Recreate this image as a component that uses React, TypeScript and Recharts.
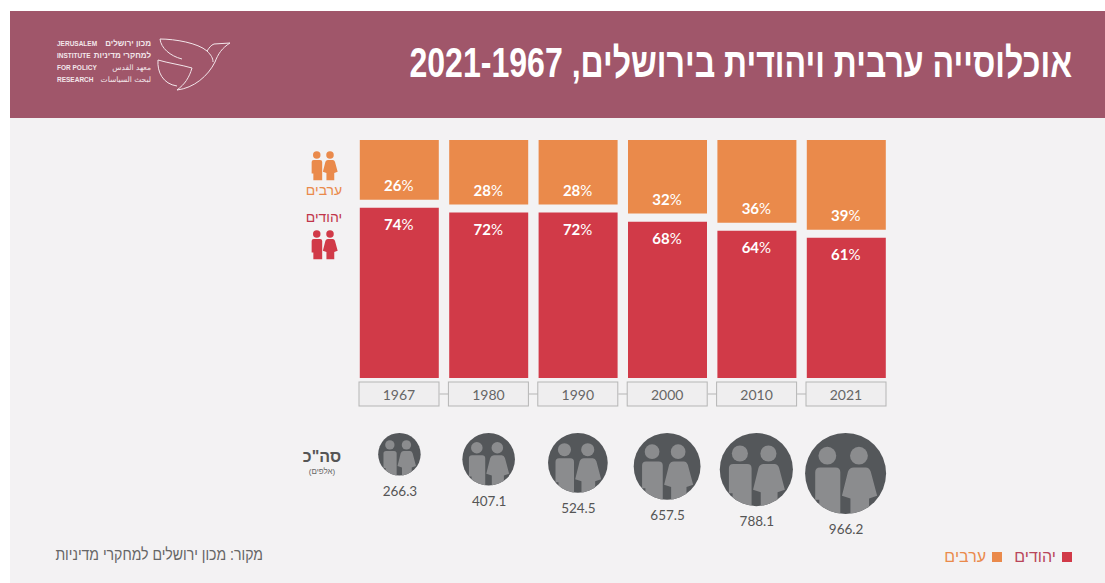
import { Bar, BarChart, LabelList, Scatter, ScatterChart, XAxis, YAxis, ZAxis } from "recharts";

const years = ["1967", "1980", "1990", "2000", "2010", "2021"];
const jews = [74, 72, 72, 68, 64, 61];
const arabs = [26, 28, 28, 32, 36, 39];
// blank band between the two stacked segments
const gaps = [3.5, 3.5, 3.5, 3.5, 3.5, 3.5];
const totals = [266.3, 407.1, 524.5, 657.5, 788.1, 966.2];
const bubbleRow = [1, 1, 1, 1, 1, 1];

const logoEnglish = ["JERUSALEM", "INSTITUTE", "FOR POLICY", "RESEARCH"];
const logoLocal = ["מכון ירושלים", "למחקרי מדיניות", "معهد القدس", "لبحث السياسات"];

const shareRows = years.map((year, i) => ({ year, jews: jews[i], gap: gaps[i], arabs: arabs[i] }));
const bubbleRows = years.map((year, i) => ({ year, total: totals[i], row: bubbleRow[i] }));

const HEBREW = '"Liberation Sans", "DejaVu Sans", sans-serif';
const NUMBERS = 'Lato, "Open Sans", sans-serif';
const ORANGE = "#ea8a4b";
const RED = "#d13a48";

const plotLeft = 354.8;
const plotRight = 213.8;
const bandWidth = 89.4;

function People({ cx, cy, r, fill }: { cx: number; cy: number; r: number; fill: string }) {
  return (
    <g transform={`translate(${cx} ${cy}) scale(${r})`} fill={fill}>
      <circle cx={-0.45} cy={-0.44} r={0.22} />
      <circle cx={0.33} cy={-0.44} r={0.22} />
      <path d="M-.63 -.15H-.25Q-.13 -.15 -.13 -.03V1.05H-.65V.65H-.75V-.03Q-.75 -.15 -.63 -.15Z" />
      <path d="M.2 -.15H.5Q.58 -.15 .62 -.05L.78 .55L.58 .62V1.05H.12V.62L-.09 .55L.06 -.05Q.1 -.15 .2 -.15Z" />
    </g>
  );
}

function YearTick(props: any) {
  const { x, y, payload, index } = props;
  const top = y - 1;
  return (
    <g>
      {index < years.length - 1 && (
        <line x1={x + 40} x2={x + bandWidth - 40} y1={top + 12} y2={top + 12} stroke="#b5b5b5" />
      )}
      <rect x={x - 40.5} y={top} width={80} height={24} fill="#efeeef" stroke="#b5b5b5" />
      <text x={x - 0.5} y={top + 12.5} textAnchor="middle" dominantBaseline="central" fontFamily={NUMBERS} fontSize={14} fill="#666">
        {payload.value}
      </text>
    </g>
  );
}

function ShareLabel(props: any) {
  const { x, y, width, height, value, index } = props;
  const isJews = props.kind === "jews";
  const ly = isJews ? y + 16.5 : y + height - 14.5;
  return (
    <text
      key={index}
      x={x + width / 2 - 0.5}
      y={ly}
      textAnchor="middle"
      dominantBaseline="central"
      fontFamily={NUMBERS}
      fontSize={15}
      fill="#fff"
    >
      <tspan fontWeight={700}>{value}</tspan>
      <tspan fontWeight={400}>%</tspan>
    </text>
  );
}

function Bubble(props: any) {
  const { cx, cy, size, payload } = props;
  const r = Math.sqrt(size / Math.PI);
  const id = `clip-${payload.year}`;
  const centerY = cy + r;
  return (
    <g>
      <clipPath id={id}>
        <circle cx={cx} cy={centerY} r={r} />
      </clipPath>
      <circle cx={cx} cy={centerY} r={r} fill="#54575a" />
      <g clipPath={`url(#${id})`}>
        <People cx={cx} cy={centerY} r={r} fill="#8b8c8e" />
      </g>
      <text
        x={cx + 0.5}
        y={cy + 2 * r + 15}
        textAnchor="middle"
        dominantBaseline="central"
        fontFamily={NUMBERS}
        fontSize={13.5}
        fill="#555"
      >
        {payload.total}
      </text>
    </g>
  );
}

function Decor() {
  return (
    <svg width={1105} height={583} style={{ position: "absolute", left: 0, top: 0 }}>
      <rect x={10} y={11} width={1095} height={107} fill="#a0566a" />
      <text
        transform="translate(1072 77) scale(0.7635 1)"
        direction="rtl"
        fontFamily={HEBREW}
        fontWeight={700}
        fontSize={42}
        fill="#fff"
      >
        אוכלוסייה ערבית ויהודית בירושלים, 2021-1967
      </text>

      {logoEnglish.map((line, i) => (
        <text key={line} x={57} y={46 + i * 12} fontFamily={HEBREW} fontWeight={700} fontSize={6.5} fill="#f3e6ea">
          {line}
        </text>
      ))}
      {logoLocal.map((line, i) => (
        <text
          key={line}
          x={151}
          y={46 + i * 12}
          direction="rtl"
          fontFamily={i < 2 ? HEBREW : '"DejaVu Sans", sans-serif'}
          fontWeight={i < 2 ? 700 : 400}
          fontSize={i < 2 ? 8 : 7.5}
          fill="#f3e6ea"
        >
          {line}
        </text>
      ))}
      <g fill="none" stroke="#f3e6ea" strokeWidth={1}>
        <path d="M160 39C175 39 198 43 207 51C209 48 211 45 214 44L230 43C222 48 218 54 215 62C208 76 194 88 177 90C185 84 189 78 192 68C182 65 168 63 158 60C157 72 163 84 177 86" />
        <path d="M160 39C161 48 170 56 182 59" />
        <path d="M207 51C211 55 213 58 213 62" />
      </g>

      <People cx={324.4} cy={162.5} r={17} fill={ORANGE} />
      <text x={324} y={195} textAnchor="middle" direction="rtl" fontFamily={HEBREW} fontSize={14} fill={ORANGE}>
        ערבים
      </text>
      <text x={324} y={222} textAnchor="middle" direction="rtl" fontFamily={HEBREW} fontSize={14} fill="#c1354a">
        יהודים
      </text>
      <People cx={324.4} cy={241.5} r={17} fill={RED} />

      <text x={322} y={462} textAnchor="middle" direction="rtl" fontFamily={HEBREW} fontWeight={700} fontSize={16} fill="#555">
        סה"כ
      </text>
      <text x={322} y={474} textAnchor="middle" direction="rtl" fontFamily={HEBREW} fontSize={8} fill="#666">
        (אלפים)
      </text>

      <text transform="translate(263 560) scale(0.88 1)" direction="rtl" fontFamily={HEBREW} fontSize={16} fill="#666">
        מקור: מכון ירושלים למחקרי מדיניות
      </text>

      <rect x={1062} y={552} width={10} height={10} fill={RED} />
      <text x={1056} y={562} direction="rtl" fontFamily={HEBREW} fontSize={16} fill="#b9465a">
        יהודים
      </text>
      <rect x={992} y={552} width={10} height={10} fill={ORANGE} />
      <text x={986} y={562} direction="rtl" fontFamily={HEBREW} fontSize={16} fill={ORANGE}>
        ערבים
      </text>
    </svg>
  );
}

export default function App() {
  return (
    <div style={{ position: "absolute", left: 0, top: 0, width: 1105, height: 583, overflow: "hidden", background: "#fff" }}>
      <div style={{ position: "absolute", left: 10, top: 118, width: 1095, height: 465, background: "#f3f2f3" }} />
      <Decor />
      <div style={{ position: "absolute", left: 0, top: 140 }}>
        <BarChart
          width={1105}
          height={280}
          data={shareRows}
          barCategoryGap={0}
          margin={{ top: 0, right: plotRight, bottom: 0, left: plotLeft }}
        >
          <XAxis
            dataKey="year"
            height={42}
            axisLine={false}
            tickLine={false}
            tickSize={0}
            tickMargin={5}
            interval={0}
            tick={<YearTick />}
          />
          <YAxis hide domain={[0, 103.5]} />
          <Bar dataKey="jews" stackId="share" fill={RED} barSize={79} isAnimationActive={false}>
            <LabelList dataKey="jews" content={<ShareLabel kind="jews" />} />
          </Bar>
          <Bar dataKey="gap" stackId="share" fill="none" barSize={79} isAnimationActive={false} />
          <Bar dataKey="arabs" stackId="share" fill={ORANGE} barSize={79} isAnimationActive={false}>
            <LabelList dataKey="arabs" content={<ShareLabel kind="arabs" />} />
          </Bar>
        </BarChart>
      </div>
      <div style={{ position: "absolute", left: 0, top: 433 }}>
        <ScatterChart
          width={1105}
          height={110}
          margin={{ top: 0, right: plotRight + 1, bottom: 0, left: plotLeft }}
        >
          <XAxis type="category" dataKey="year" hide allowDuplicatedCategory={false} />
          <YAxis type="number" dataKey="row" hide domain={[0, 1]} />
          <ZAxis type="number" dataKey="total" domain={[0, 966.2]} range={[0, 5153]} />
          <Scatter data={bubbleRows} shape={<Bubble />} isAnimationActive={false} />
        </ScatterChart>
      </div>
    </div>
  );
}
